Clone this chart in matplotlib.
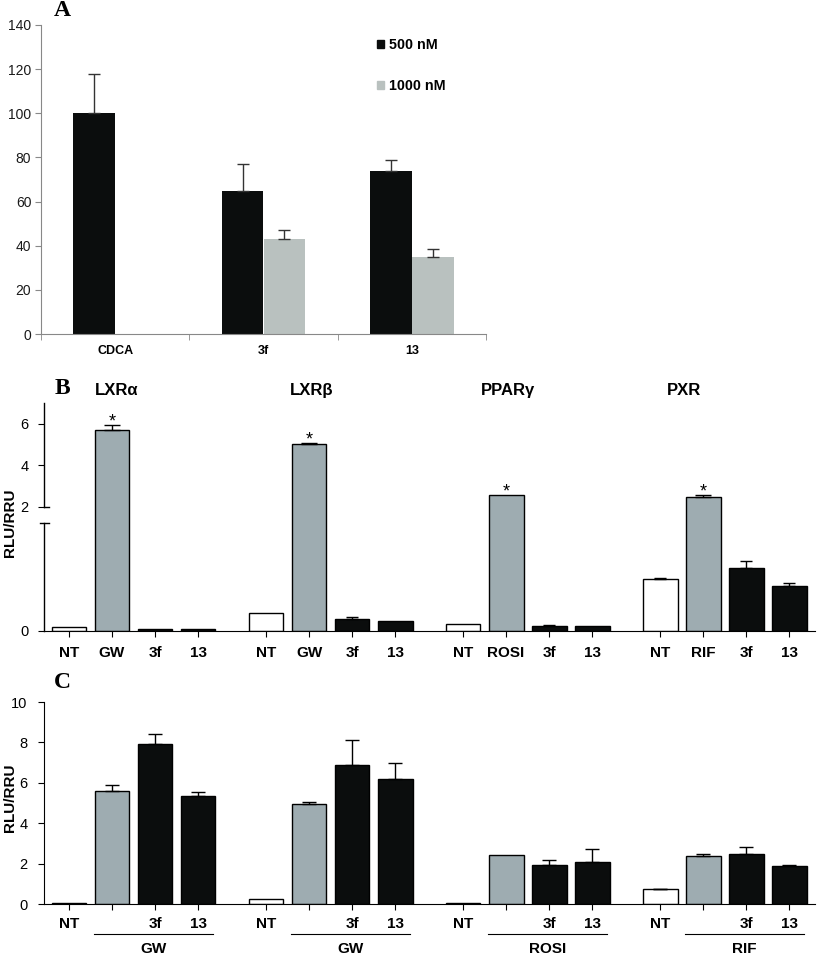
import numpy as np
import matplotlib
matplotlib.use('Agg')
import matplotlib.pyplot as plt
from matplotlib.patches import Patch

plt.rcParams['font.family'] = ['Liberation Sans', 'DejaVu Sans']

# ---- datos panel A ----
a_cats = ['CDCA', '3f', '13']
a_500 = [100, 65, 74]
a_500_err = [18, 12, 5]
a_1000 = [0, 43, 35]
a_1000_err = [0, 4.3, 3.5]

# ---- datos panel B ----
receptores = ['LXRα', 'LXRβ', 'PPARγ', 'PXR']
b_ticks = [['NT', 'GW', '3f', '13'], ['NT', 'GW', '3f', '13'],
           ['NT', 'ROSI', '3f', '13'], ['NT', 'RIF', '3f', '13']]
b_vals = [[0.05, 5.70, 0.03, 0.025],
          [0.25, 5.03, 0.17, 0.14],
          [0.10, 2.58, 0.07, 0.07],
          [0.72, 2.48, 0.875, 0.625]]
b_err = [[0, 0.24, 0, 0],
         [0, 0.05, 0.02, 0],
         [0, 0, 0.01, 0],
         [0.01, 0.10, 0.10, 0.045]]
b_sig = [1, 1, 1, 1]   # barra con asterisco en cada grupo

# ---- datos panel C ----
c_agonistas = ['GW', 'GW', 'ROSI', 'RIF']
c_ticks = ['NT', '', '3f', '13']
c_vals = [[0.03, 5.61, 7.90, 5.33],
          [0.23, 4.94, 6.90, 6.17],
          [0.07, 2.44, 1.93, 2.06],
          [0.74, 2.38, 2.46, 1.90]]
c_err = [[0, 0.26, 0.53, 0.21],
         [0, 0.10, 1.20, 0.79],
         [0, 0, 0.23, 0.68],
         [0.01, 0.11, 0.38, 0.05]]

W, H = 819, 956
NEGRO = '#0b0d0d'
GRIS_A = '#b9c1bf'
GRIS_B = '#9eacb1'
colores_bc = ['white', GRIS_B, NEGRO, NEGRO]
PERIODO = 4.58
ANCHO = 0.81


def caja(x0, y0, x1, y1):
    # pixeles (arriba-izquierda) -> fraccion de figura
    return [x0 / W, 1 - y1 / H, (x1 - x0) / W, (y1 - y0) / H]


fig = plt.figure(figsize=(W / 100, H / 100), dpi=100)

# ================= Panel A =================
axA = fig.add_axes(caja(41, 25, 486, 334))
xa = np.arange(len(a_cats))
w = 0.283
axA.bar(xa - w / 2, a_500, w, color=NEGRO, label='500 nM')
axA.bar(xa + w / 2, a_1000, w, color=GRIS_A, label='1000 nM')
axA.errorbar(xa - w / 2, a_500, yerr=[np.zeros(3), a_500_err], fmt='none',
             ecolor='#333333', elinewidth=1, capsize=4, capthick=1)
m = np.array(a_1000_err) > 0
axA.errorbar((xa + w / 2)[m], np.array(a_1000)[m],
             yerr=[np.zeros(m.sum()), np.array(a_1000_err)[m]], fmt='none',
             ecolor='#333333', elinewidth=1, capsize=4, capthick=1)
axA.set_xlim(-0.5, 2.5)
axA.set_ylim(0, 140)
axA.set_yticks(range(0, 141, 20))
axA.set_xticks(xa)
axA.set_xticklabels(a_cats, fontsize=9, fontweight='bold')
axA.set_xticks([-0.5, 0.5, 1.5, 2.5], minor=True)
axA.tick_params(axis='x', which='major', length=0, pad=8)
axA.tick_params(axis='x', which='minor', length=4, color='#888888', direction='out')
axA.tick_params(axis='y', length=4, color='#888888', labelsize=10, pad=3, labelcolor='#1a1a1a')
for s in ['top', 'right']:
    axA.spines[s].set_visible(False)
for s in ['left', 'bottom']:
    axA.spines[s].set_color('#888888')
handles = [Patch(color=NEGRO, label='500 nM'), Patch(color=GRIS_A, label='1000 nM')]
axA.legend(handles=handles, loc='upper left', bbox_to_anchor=(0.735, 0.985),
           frameon=False, handlelength=0.5, handleheight=0.5, handletextpad=0.35,
           labelspacing=1.85, borderaxespad=0.2, prop={'weight': 'bold', 'size': 10.3})

# ================= Panel B =================
axB = fig.add_axes(caja(44, 403, 815, 631))
bk_y = [-1, 0, 1.5, 2, 7, 20]
bk_px = [-72, 0, 108, 124, 228, 228 + 13 * 20.8]


def fwd(y):
    return np.interp(y, bk_y, bk_px)


def inv(p):
    return np.interp(p, bk_px, bk_y)


axB.set_yscale('function', functions=(fwd, inv))

pos_all, lab_all = [], []
for g in range(4):
    xs = g * PERIODO + np.arange(4)
    axB.bar(xs, b_vals[g], ANCHO, color=colores_bc, edgecolor='black', linewidth=1)
    for i in range(4):
        if b_err[g][i] > 0:
            axB.errorbar(xs[i], b_vals[g][i], yerr=[[0], [b_err[g][i]]], fmt='none',
                         ecolor='black', elinewidth=1, capsize=6 if i == 1 else 4, capthick=1)
    k = b_sig[g]
    axB.annotate('*', xy=(xs[k], b_vals[g][k] + b_err[g][k]), xytext=(0, -4),
                 textcoords='offset points', ha='center', va='bottom', fontsize=13)
    pos_all += list(xs)
    lab_all += b_ticks[g]

titulo_x = [1.12, 1.05, 1.05, 0.56]
for g in range(4):
    axB.text(g * PERIODO + titulo_x[g], 1.055, receptores[g], transform=axB.get_xaxis_transform(),
             ha='center', va='center', fontsize=12, fontweight='bold')

axB.set_xlim(-0.58, 3 * PERIODO + 3.6)
axB.set_ylim(0, 7)
axB.set_xticks(pos_all)
axB.set_xticklabels(lab_all, fontsize=11, fontweight='bold')
axB.set_yticks([0, 2, 4, 6])
axB.tick_params(axis='x', length=4, pad=7, direction='out')
axB.tick_params(axis='y', length=4, pad=7, labelsize=10.5, direction='out')
for s in ['top', 'right', 'left']:
    axB.spines[s].set_visible(False)
tr = axB.get_yaxis_transform()
axB.plot([0, 0], [0, 1.5], transform=tr, color='black', lw=1, clip_on=False)
axB.plot([0, 0], [2, 7], transform=tr, color='black', lw=1, clip_on=False)
d = 4.5 / 771
axB.plot([-d, d], [1.5, 1.5], transform=tr, color='black', lw=1, clip_on=False)
axB.plot([0, d], [2, 2], transform=tr, color='black', lw=1, clip_on=False)

# ================= Panel C =================
axC = fig.add_axes(caja(44, 702, 815, 904))
pos_all, lab_all = [], []
trx = axC.get_xaxis_transform()
for g in range(4):
    xs = g * PERIODO + np.arange(4)
    axC.bar(xs, c_vals[g], ANCHO, color=colores_bc, edgecolor='black', linewidth=1)
    for i in range(4):
        if c_err[g][i] > 0:
            axC.errorbar(xs[i], c_vals[g][i], yerr=[[0], [c_err[g][i]]], fmt='none',
                         ecolor='black', elinewidth=1, capsize=5, capthick=1)
    pos_all += list(xs)
    lab_all += c_ticks
    x0, x1 = g * PERIODO + 0.58, g * PERIODO + 3.35
    axC.plot([x0, x1], [-0.149, -0.149], transform=trx, color='black', lw=0.8, clip_on=False)
    axC.text((x0 + x1) / 2, -0.225, c_agonistas[g], transform=trx, ha='center', va='center',
             fontsize=11, fontweight='bold')

axC.set_xlim(-0.58, 3 * PERIODO + 3.6)
axC.set_ylim(0, 10)
axC.set_xticks(pos_all)
axC.set_xticklabels(lab_all, fontsize=11, fontweight='bold')
axC.set_yticks(range(0, 11, 2))
axC.tick_params(axis='x', length=4, pad=5, direction='out')
axC.tick_params(axis='y', length=4, pad=8, labelsize=10.5, direction='out')
for s in ['top', 'right']:
    axC.spines[s].set_visible(False)

# etiquetas de eje y (texto de figura para no cortarlas)
for yc in [523, 798]:
    fig.text(10 / W, 1 - yc / H, 'RLU/RRU', rotation=90, ha='center', va='center',
             fontsize=11, fontweight='bold')

# letras de panel
for letra, (x, y) in zip('ABC', [(62, 11), (62, 388), (62, 683)]):
    fig.text(x / W, 1 - y / H, letra, ha='center', va='center', fontsize=17,
             fontweight='bold', family='Liberation Serif')

fig.savefig('out.png', dpi=100)
